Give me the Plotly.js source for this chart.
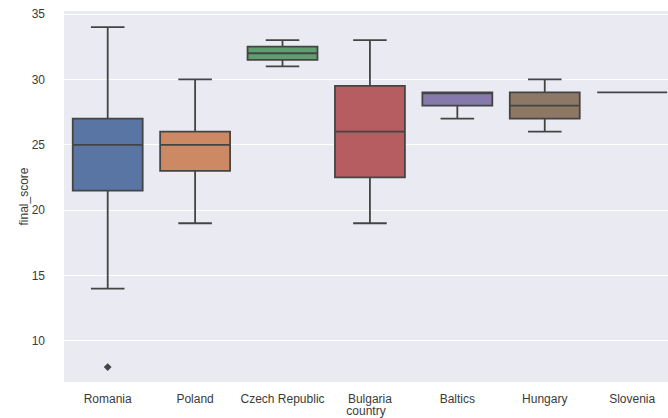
<!DOCTYPE html>
<html>
<head>
<meta charset="utf-8">
<script src="https://cdn.plot.ly/plotly-3.0.1.min.js"></script>
<style>html,body{margin:0;padding:0;background:#fff;}#chart{width:668px;height:418px;}</style>
</head>
<body>
<div id="chart"></div>
<script>
// Data
const countries = ["Romania", "Poland", "Czech Republic", "Bulgaria", "Baltics", "Hungary", "Slovenia"];
const lowerWhisker = [14, 19, 31, 19, 27, 26, 29];
const q1Values = [21.5, 23, 31.5, 22.5, 28, 27, 29];
const medianValues = [25, 25, 32, 26, 29, 28, 29];
const q3Values = [27, 26, 32.5, 29.5, 29, 29, 29];
const upperWhisker = [34, 30, 33, 33, 29, 30, 29];
const outlierCountries = ["Romania"];
const outlierValues = [8];
const boxColors = ["#5875a4", "#cc8963", "#5f9e6e", "#b55d60", "#857aab", "#8d7866", "#d095bf"];

const lineColor = "#444444";
const traces = countries.map((c, i) => ({
  type: "box",
  x: [c],
  q1: [q1Values[i]],
  median: [medianValues[i]],
  q3: [q3Values[i]],
  lowerfence: [lowerWhisker[i]],
  upperfence: [upperWhisker[i]],
  fillcolor: boxColors[i],
  line: {color: lineColor, width: 1.8},
  width: 0.8,
  whiskerwidth: 0.48,
  boxpoints: false,
  hoverinfo: "skip",
  showlegend: false
}));
traces.push({
  type: "scatter",
  mode: "markers",
  x: outlierCountries,
  y: outlierValues,
  marker: {symbol: "diamond", size: 6, color: lineColor},
  hoverinfo: "skip",
  showlegend: false
});

const layout = {
  width: 668,
  height: 418,
  margin: {l: 64, r: 0, t: 11, b: 36},
  paper_bgcolor: "#ffffff",
  plot_bgcolor: "#eaeaf2",
  boxmode: "overlay",
  showlegend: false,
  font: {family: "Liberation Sans, Arial, sans-serif", size: 12, color: "#3a3a3a"},
  xaxis: {
    type: "category",
    categoryorder: "array",
    categoryarray: countries,
    range: [-0.5, 6.41],
    automargin: false,
    showgrid: false,
    zeroline: false,
    showline: false,
    ticks: "",
    ticklen: 0,
    ticklabelstandoff: 8,
    tickfont: {size: 12, color: "#3a3a3a"},
    title: {text: "country", font: {size: 12, color: "#3a3a3a"}, standoff: 10}
  },
  yaxis: {
    range: [6.86, 35.23],
    tickvals: [10, 15, 20, 25, 30, 35],
    showgrid: true,
    gridcolor: "#ffffff",
    gridwidth: 1,
    zeroline: false,
    showline: false,
    ticks: "",
    ticklabelstandoff: 18,
    tickfont: {size: 12, color: "#3a3a3a"},
    title: {text: "final_score", font: {size: 12, color: "#3a3a3a"}, standoff: 0}
  }
};

Plotly.newPlot("chart", traces, layout, {displayModeBar: false, staticPlot: true});
</script>
</body>
</html>
